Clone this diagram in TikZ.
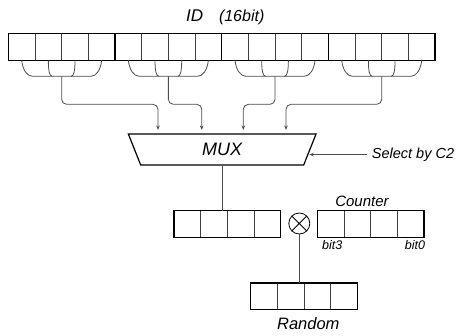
\documentclass[tikz,border=0pt]{standalone}
\usepackage{fontspec}
\setmainfont{Liberation Sans}
\usetikzlibrary{arrows.meta,shapes.geometric,calc}

\begin{document}
\begin{tikzpicture}[x=1pt,y=-1pt,
        >={Stealth[length=4.5pt,width=3.5pt]},
        cell/.style={draw=black!75,line width=0.7pt,minimum size=26.67pt,inner sep=0pt,outer sep=0pt},
        regbox/.style={draw=black,line width=1.5pt},
        wire/.style={draw=black!70,line width=0.8pt},
        lbl/.style={anchor=base,inner sep=0pt}]
    \useasboundingbox (0,0) rectangle (459,336);

    % 16 bit ID, four nibbles
    \foreach \i in {0,...,15}
        \node[cell] (id\i) at (21.67+26.67*\i,47) {};

    % mux and its inputs
    \node[draw,line width=1.2pt,trapezium,shape border rotate=180,
          trapezium angle=45.5,trapezium stretches body,
          minimum width=187.7pt,minimum height=31pt,inner sep=0pt,
          font=\fontsize{18}{20}\selectfont\itshape] (mux) at (222.2,149.5) {MUX};
    \foreach \g/\x in {0/158,1/201.7,2/243.3,3/286}
        \coordinate (in\g) at (\x,130);

    \foreach \g in {0,...,3} {
        \pgfmathtruncatemacro\a{4*\g}
        \pgfmathtruncatemacro\b{4*\g+1}
        \pgfmathtruncatemacro\c{4*\g+2}
        \pgfmathtruncatemacro\d{4*\g+3}
        \draw[regbox] (id\a.north west) rectangle (id\d.south east);
        % bracket under the nibble
        \draw[wire] (id\a.south) .. controls +(1,9) and +(-6,0) .. ++(11,16)
            -- ($(id\d.south)+(-11,16)$) .. controls +(6,0) and +(-1,9) .. (id\d.south);
        \draw[wire] (id\b.south) .. controls +(0,10) and +(-3,0) .. ++(4,16);
        \draw[wire] (id\c.south) .. controls +(0,10) and +(3,0) .. ++(-4,16);
        \draw[wire,->,rounded corners=5pt] ($(id\b.south east)+(0,16)$) -- ++(0,28) -| (in\g);
    }

    % select input
    \node[anchor=base west,inner xsep=5pt,inner ysep=0pt,
          font=\fontsize{14.5}{16}\selectfont\itshape] (c2) at (366.7,158.3) {Select by C2};
    \coordinate (c2-tip) at (309.3,154);
    \draw[wire,->] (c2.west) -- (c2.west -| c2-tip);

    % mux output, counter and random registers
    \foreach \i in {0,...,3} {
        \node[cell] (out\i) at (187.33+26.67*\i,224) {};
        \node[cell] (cnt\i) at (330.67+26.67*\i,224) {};
        \node[cell] (rnd\i) at (264+26.67*\i,296.3) {};
    }
    \draw[regbox] (out0.north west) rectangle (out3.south east);
    \draw[regbox] (cnt0.north west) rectangle (cnt3.south east);
    \draw[regbox] (rnd0.north west) rectangle (rnd3.south east);

    \node[draw,circle,line width=0.8pt,minimum size=21pt,inner sep=0pt] (mul) at (299.3,223.5) {};
    \draw[line width=0.8pt] (mul.north west) -- (mul.south east) (mul.north east) -- (mul.south west);

    \draw[wire] (mux.south) -- (mux.south |- out0.north);
    \draw[wire] (mul.south) -- (mul.south |- rnd0.north);

    % labels
    \begin{scope}[every node/.style={lbl}]
        \node[font=\fontsize{17}{19}\selectfont\itshape] (id) at (194.7,22) {ID};
        \node[font=\fontsize{16}{18}\selectfont\itshape] (width) at (241.7,22) {(16bit)};
        \node[font=\fontsize{15}{17}\selectfont\itshape] (counter) at (362,206.7) {Counter};
        \node[font=\fontsize{12.5}{14}\selectfont\itshape] (bit3) at (332.2,250) {bit3};
        \node[font=\fontsize{12.5}{14}\selectfont\itshape] (bit0) at (415,250) {bit0};
        \node[font=\fontsize{16.5}{18}\selectfont\itshape] (random) at (308.3,330) {Random};
    \end{scope}
\end{tikzpicture}
\end{document}
